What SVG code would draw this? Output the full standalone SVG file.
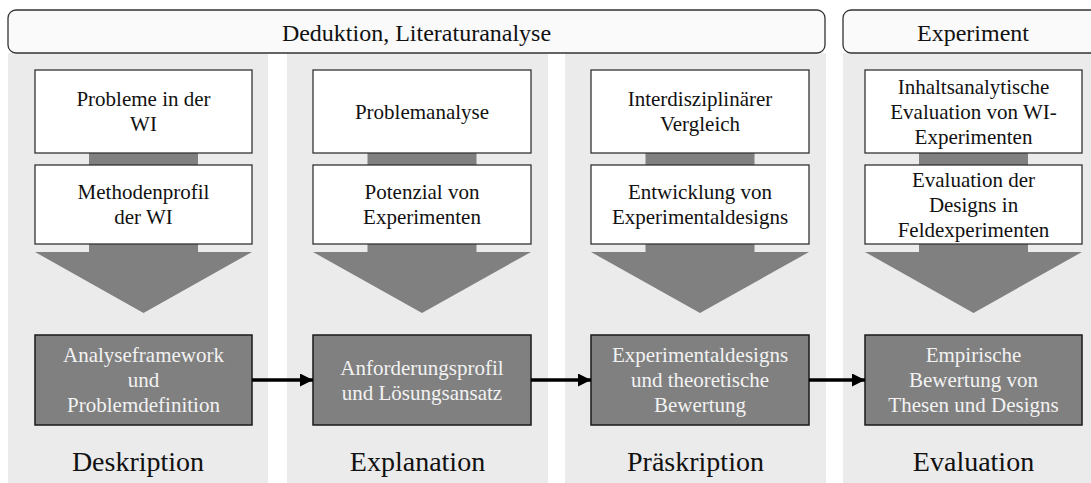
<svg xmlns="http://www.w3.org/2000/svg" width="1091" height="483" viewBox="0 0 1091 483">
<style>
.col{fill:#ebebeb}
.ban{fill:#fafafa;stroke:#333;stroke-width:1.3}
.wb{fill:#fff;stroke:#333;stroke-width:1.3}
.db{fill:#808080;stroke:#1a1a1a;stroke-width:1.5}
.ga{fill:#808080}
.t{font-family:"Liberation Serif","Times New Roman",serif;font-size:21px;fill:#111;text-anchor:middle}
.tw{font-family:"Liberation Serif","Times New Roman",serif;font-size:21px;fill:#f2f2f2;text-anchor:middle}
.tb{font-family:"Liberation Serif","Times New Roman",serif;font-size:24px;fill:#111;text-anchor:middle}
.tl{font-family:"Liberation Serif","Times New Roman",serif;font-size:28px;fill:#111;text-anchor:middle}
.con{stroke:#000;stroke-width:3.5;fill:none}
</style>
<defs>
<marker id="ah" markerWidth="13" markerHeight="13" refX="13" refY="6.5" orient="auto" markerUnits="userSpaceOnUse">
<path d="M0,0 L13,6.5 L0,13 Z" fill="#000"/>
</marker>
</defs>
<g id="columns">
<rect class="col" x="8" y="53" width="260" height="430"/>
<rect class="col" x="287" y="53" width="261" height="430"/>
<rect class="col" x="565" y="53" width="261" height="430"/>
<rect class="col" x="843" y="53" width="261" height="430"/>
</g>
<g id="banner1">
<rect class="ban" x="8" y="10" width="817" height="43" rx="8"/>
<text class="tb" x="416.5" y="41">Deduktion, Literaturanalyse</text>
</g>
<g id="banner2">
<rect class="ban" x="843" y="10" width="260" height="43" rx="8"/>
<text class="tb" x="973" y="41">Experiment</text>
</g>
<g id="flow1">
<rect class="ga" x="89" y="153" width="109" height="12"/>
<path class="ga" d="M89,244 H198 V252 H252 L143.5,313 L35,252 H89 Z"/>
</g>
<g id="flow2">
<rect class="ga" x="367.5" y="153" width="109" height="12"/>
<path class="ga" d="M367.5,244 H476.5 V252 H531 L422,313 L313,252 H367.5 Z"/>
</g>
<g id="flow3">
<rect class="ga" x="645.5" y="153" width="109" height="12"/>
<path class="ga" d="M645.5,244 H754.5 V252 H809 L700,313 L591,252 H645.5 Z"/>
</g>
<g id="flow4">
<rect class="ga" x="919" y="153" width="109" height="12"/>
<path class="ga" d="M919,244 H1028 V252 H1082 L973.5,313 L865,252 H919 Z"/>
</g>
<g id="n1a"><rect class="wb" x="35" y="70" width="217" height="83"/>
<text class="t" x="143.5" y="106">Probleme in der</text><text class="t" x="143.5" y="131">WI</text></g>
<g id="n1b"><rect class="wb" x="35" y="165" width="217" height="79"/>
<text class="t" x="143.5" y="199">Methodenprofil</text><text class="t" x="143.5" y="224">der WI</text></g>
<g id="n1c"><rect class="db" x="35" y="335" width="217" height="90"/>
<text class="tw" x="143.5" y="362">Analyseframework</text><text class="tw" x="143.5" y="387">und</text><text class="tw" x="143.5" y="412">Problemdefinition</text></g>
<g id="n2a"><rect class="wb" x="313" y="70" width="218" height="83"/>
<text class="t" x="422" y="119">Problemanalyse</text></g>
<g id="n2b"><rect class="wb" x="313" y="165" width="218" height="79"/>
<text class="t" x="422" y="199">Potenzial von</text><text class="t" x="422" y="224">Experimenten</text></g>
<g id="n2c"><rect class="db" x="313" y="335" width="218" height="90"/>
<text class="tw" x="422" y="374.5">Anforderungsprofil</text><text class="tw" x="422" y="399.5">und Lösungsansatz</text></g>
<g id="n3a"><rect class="wb" x="591" y="70" width="218" height="83"/>
<text class="t" x="700" y="106">Interdisziplinärer</text><text class="t" x="700" y="131">Vergleich</text></g>
<g id="n3b"><rect class="wb" x="591" y="165" width="218" height="79"/>
<text class="t" x="700" y="199">Entwicklung von</text><text class="t" x="700" y="224">Experimentaldesigns</text></g>
<g id="n3c"><rect class="db" x="591" y="335" width="218" height="90"/>
<text class="tw" x="700" y="362">Experimentaldesigns</text><text class="tw" x="700" y="387">und theoretische</text><text class="tw" x="700" y="412">Bewertung</text></g>
<g id="n4a"><rect class="wb" x="865" y="70" width="217" height="83"/>
<text class="t" x="973.5" y="94">Inhaltsanalytische</text><text class="t" x="973.5" y="119">Evaluation von WI-</text><text class="t" x="973.5" y="144">Experimenten</text></g>
<g id="n4b"><rect class="wb" x="865" y="165" width="217" height="79"/>
<text class="t" x="973.5" y="187">Evaluation der</text><text class="t" x="973.5" y="212">Designs in</text><text class="t" x="973.5" y="237">Feldexperimenten</text></g>
<g id="n4c"><rect class="db" x="865" y="335" width="217" height="90"/>
<text class="tw" x="973.5" y="362">Empirische</text><text class="tw" x="973.5" y="387">Bewertung von</text><text class="tw" x="973.5" y="412">Thesen und Designs</text></g>
<g id="labels">
<text class="tl" x="138" y="471">Deskription</text>
<text class="tl" x="417.5" y="471">Explanation</text>
<text class="tl" x="695.5" y="471">Präskription</text>
<text class="tl" x="973.5" y="471">Evaluation</text>
</g>
<g id="connectors">
<line class="con" x1="252" y1="380" x2="313" y2="380" marker-end="url(#ah)"/>
<line class="con" x1="531" y1="380" x2="591" y2="380" marker-end="url(#ah)"/>
<line class="con" x1="809" y1="380" x2="865" y2="380" marker-end="url(#ah)"/>
</g>
</svg>
